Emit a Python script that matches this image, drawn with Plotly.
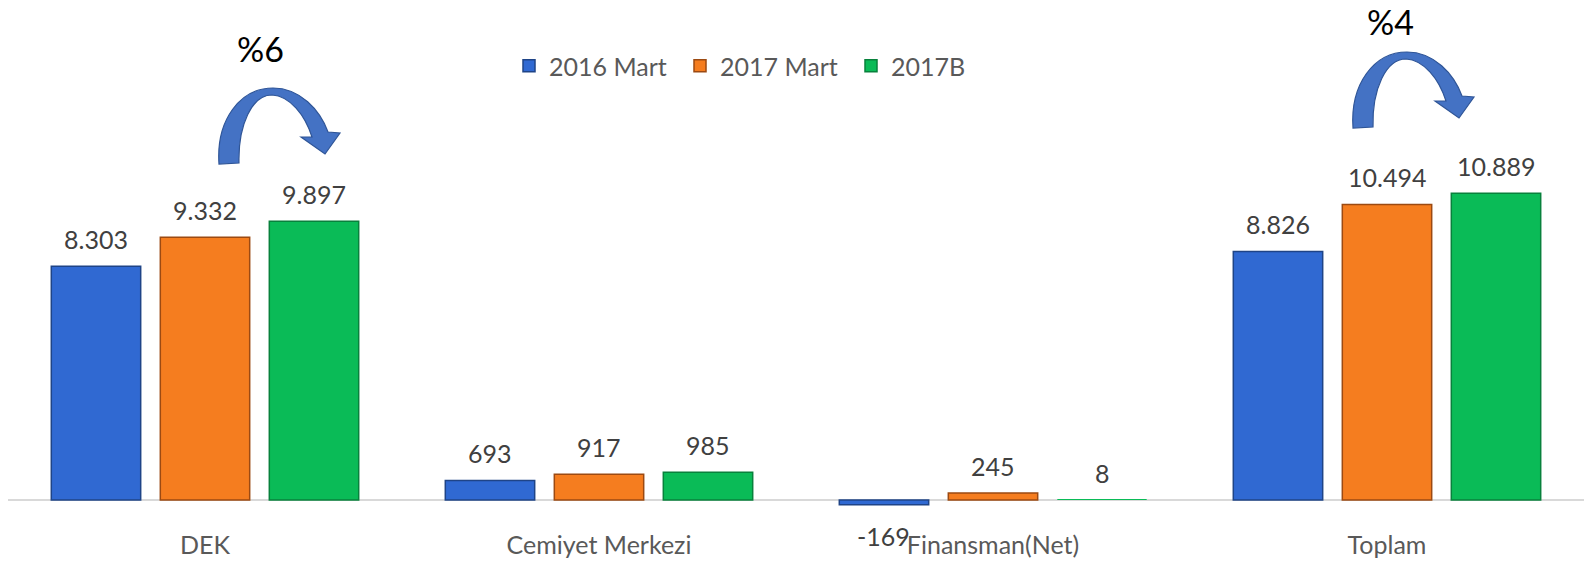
import plotly.graph_objects as go

# ---------------- data ----------------
categories = ["DEK", "Cemiyet Merkezi", "Finansman(Net)", "Toplam"]
series_names = ["2016 Mart", "2017 Mart", "2017B"]
values_2016_mart = [8303, 693, -169, 8826]
values_2017_mart = [9332, 917, 245, 10494]
values_2017b = [9897, 985, 8, 10889]
growth_labels = ["%6", "%4"]

# ---------------- style ----------------
W, H = 1587, 564
ML, MR, MT, MB = 8, 3, 0, 36
PW, PH = W - ML - MR, H - MT - MB
BASE_PX = 500            # pixel y of the zero line
PX_PER_UNIT = 0.02816
Y_MAX = (BASE_PX - MT) / PX_PER_UNIT
Y_MIN = -(MT + PH - BASE_PX) / PX_PER_UNIT
BARGAP = 0.17
BARGROUPGAP = 0.18
FONT = "Lato"

fills = ["#3069d2", "#f57d1f", "#0abb57"]
edges = ["#1f4487", "#9c4a12", "#08813c"]
all_values = [values_2016_mart, values_2017_mart, values_2017b]

fig = go.Figure()
for name, vals, fc, ec in zip(series_names, all_values, fills, edges):
    fig.add_trace(go.Bar(
        name=name, x=categories, y=vals,
        marker=dict(color=fc,
                    line=dict(color=ec, width=[1.5 if abs(v) > 50 else 0 for v in vals])),
        hoverinfo="x+y+name",
    ))

def fmt(v):
    return f"{v:,}".replace(",", ".")

slot = (1 - BARGAP) / len(series_names)
annotations = []
for j, vals in enumerate(all_values):
    for i, v in enumerate(vals):
        annotations.append(dict(
            x=i + (j - 1) * slot, y=v, xref="x", yref="y",
            text=fmt(v), showarrow=False,
            yshift=27 if v >= 0 else -31, yanchor="middle",
            font=dict(family=FONT, size=25, color="#404040"),
        ))

def px2paper(px, py):
    return (px - ML) / PW, (MT + PH - py) / PH

def arrow_path(dx, dy):
    pts = [
        ("M", [(219, 164)]),
        ("C", [(216, 120), (240, 88), (273, 88)]),
        ("C", [(300, 88), (320, 110), (328, 132)]),
        ("L", [(340, 133)]),
        ("L", [(325, 154)]),
        ("L", [(301, 137)]),
        ("L", [(312, 137)]),
        ("C", [(305, 115), (290, 96), (272, 95)]),
        ("C", [(252, 95), (238, 125), (239, 163)]),
    ]
    s = ""
    for cmd, ps in pts:
        s += cmd + " " + " ".join(
            "%.5f,%.5f" % px2paper(x + dx, y + dy) for x, y in ps) + " "
    return s + "Z"

shapes = []
arrow_offsets = [(0, 0), (1134, -36)]
text_pos = [(260, 49), (1390, 21)]
for (dx, dy), lab, (tx, ty) in zip(arrow_offsets, growth_labels, text_pos):
    shapes.append(dict(type="path", xref="paper", yref="paper",
                       path=arrow_path(dx, dy),
                       fillcolor="#4472c4", line=dict(color="#2f5597", width=1.2)))
    ax, ay = px2paper(tx, ty)
    annotations.append(dict(x=ax, y=ay, xref="paper", yref="paper",
                            text=lab, showarrow=False, xanchor="center", yanchor="middle",
                            font=dict(family=FONT, size=34, color="#000000")))

lx, ly = px2paper(509, 66)
fig.update_layout(
    width=W, height=H,
    margin=dict(l=ML, r=MR, t=MT, b=MB, pad=0),
    paper_bgcolor="white", plot_bgcolor="white",
    barmode="group", bargap=BARGAP, bargroupgap=BARGROUPGAP,
    font=dict(family=FONT, color="#595959"),
    showlegend=True,
    legend=dict(orientation="h", x=lx, y=ly, xanchor="left", yanchor="middle",
                font=dict(family=FONT, size=25, color="#595959"),
                bgcolor="rgba(0,0,0,0)", itemwidth=30, traceorder="normal",
                entrywidth=126, entrywidthmode="pixels"),
    xaxis=dict(showgrid=False, showline=False, ticks="", zeroline=False,
               tickfont=dict(family=FONT, size=25, color="#595959")),
    yaxis=dict(range=[Y_MIN, Y_MAX], showgrid=False, showticklabels=False,
               zeroline=True, zerolinecolor="#d9d9d9", zerolinewidth=2,
               showline=False, ticks=""),
    annotations=annotations,
    shapes=shapes,
)

fig.write_html("out.html")
